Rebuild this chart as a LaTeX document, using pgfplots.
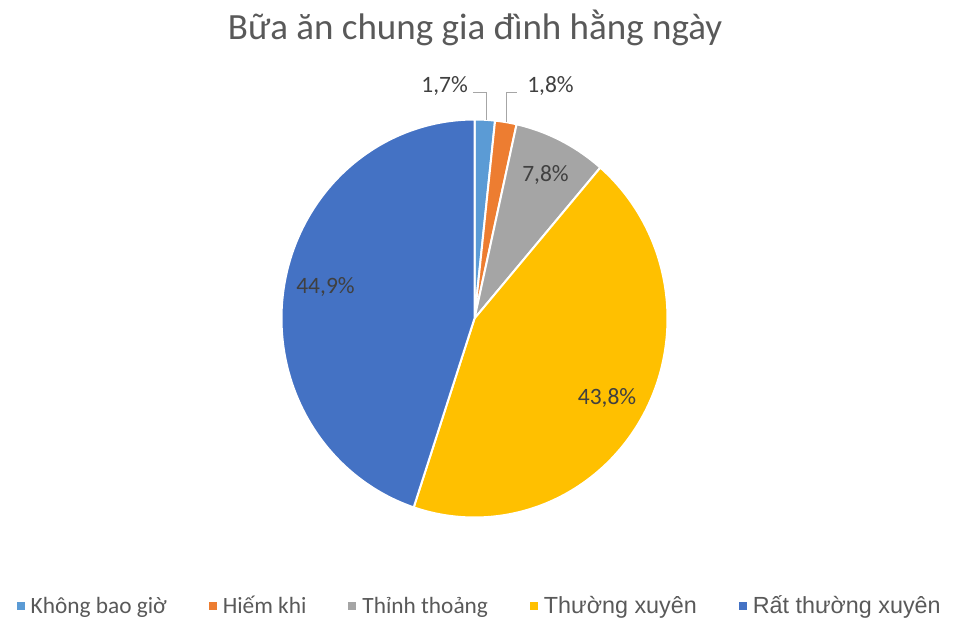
\documentclass[border=0pt]{standalone}
\usepackage{pgfplots}
\pgfplotsset{compat=1.18}
\usepackage{fontspec}
\setmainfont{Carlito}
\newfontfamily\arialf{Liberation Sans}
\definecolor{cA}{HTML}{5B9BD5}
\definecolor{cB}{HTML}{ED7D31}
\definecolor{cC}{HTML}{A5A5A5}
\definecolor{cD}{HTML}{FFC000}
\definecolor{cE}{HTML}{4472C4}
\definecolor{txt}{HTML}{595959}
\definecolor{lbl}{HTML}{404040}
\definecolor{lead}{HTML}{A6A6A6}
\begin{document}%
\begin{tikzpicture}
% percentages (clockwise from the top)
\def\vA{1.7}\def\vB{1.8}\def\vC{7.8}\def\vD{43.8}\def\vE{44.9}
\pgfmathsetmacro\sA{90}
\pgfmathsetmacro\sB{\sA-3.6*\vA}
\pgfmathsetmacro\sC{\sB-3.6*\vB}
\pgfmathsetmacro\sD{\sC-3.6*\vC}
\pgfmathsetmacro\sE{\sD-3.6*\vD}
\pgfmathsetmacro\sF{\sE-3.6*\vE}
\node[anchor=base, text=txt, font=\fontsize{27.75}{33}\selectfont, inner sep=0pt] at (356.25pt,433.5pt) {Bữa ăn chung gia đình hằng ngày};
\begin{axis}[
  at={(355.875pt,224.625pt)}, anchor=center,
  x=144.75pt, y=149.25pt,
  xmin=-1.2, xmax=1.2, ymin=-1.2, ymax=1.2,
  hide axis, clip=false,
  legend columns=5,
  legend image code/.code={\fill[#1,draw=none] (0pt,-3pt) rectangle (6pt,3pt);},
  legend style={at={(0.512,-0.102)}, anchor=center, draw=none, fill=none,
    font=\fontsize{17.5}{21}\selectfont, text=txt, inner sep=0pt,
    nodes={inner sep=2pt},
    /tikz/every odd column/.append style={column sep=2.5pt},
    /tikz/every even column/.append style={column sep=29.5pt}},
]
\addplot[fill=cA, draw=white, line width=1.5pt, domain=\sB:\sA, samples=30, variable=\t] ({cos(\t)},{sin(\t)}) -- (0,0) -- cycle;
\addlegendentry{Không bao giờ}
\addplot[fill=cB, draw=white, line width=1.5pt, domain=\sC:\sB, samples=30, variable=\t] ({cos(\t)},{sin(\t)}) -- (0,0) -- cycle;
\addlegendentry{Hiếm khi}
\addplot[fill=cC, draw=white, line width=1.5pt, domain=\sD:\sC, samples=40, variable=\t] ({cos(\t)},{sin(\t)}) -- (0,0) -- cycle;
\addlegendentry{Thỉnh thoảng}
\addplot[fill=cD, draw=white, line width=1.5pt, domain=\sE:\sD, samples=150, variable=\t] ({cos(\t)},{sin(\t)}) -- (0,0) -- cycle;
\addlegendentry{\arialf Thường xuyên}
\addplot[fill=cE, draw=white, line width=1.5pt, domain=\sF:\sE, samples=150, variable=\t] ({cos(\t)},{sin(\t)}) -- (0,0) -- cycle;
\addlegendentry{\arialf Rất thường xuyên}
% leader lines
\addplot[lead, line width=0.75pt, forget plot] coordinates {(-0.008,1.135) (0.0596,1.135) (0.0596,0.998)};
\addplot[lead, line width=0.75pt, forget plot] coordinates {(0.22,1.135) (0.168,1.135) (0.168,0.986)};
% data labels
\begin{scope}[every node/.style={anchor=base, text=lbl, inner sep=0pt, font=\fontsize{17.6}{21}\selectfont}]
\node at (axis cs:-0.155,1.135) {1,7\%};
\node at (axis cs:0.394,1.135) {1,8\%};
\node at (axis cs:0.368,0.687) {7,8\%};
\node at (axis cs:0.687,-0.43) {43,8\%};
\node at (axis cs:-0.772,0.128) {44,9\%};
\end{scope}
\end{axis}
\pgfresetboundingbox
\path[use as bounding box] (0pt,0pt) rectangle (714.75pt,463.5pt);
\end{tikzpicture}%
\end{document}
